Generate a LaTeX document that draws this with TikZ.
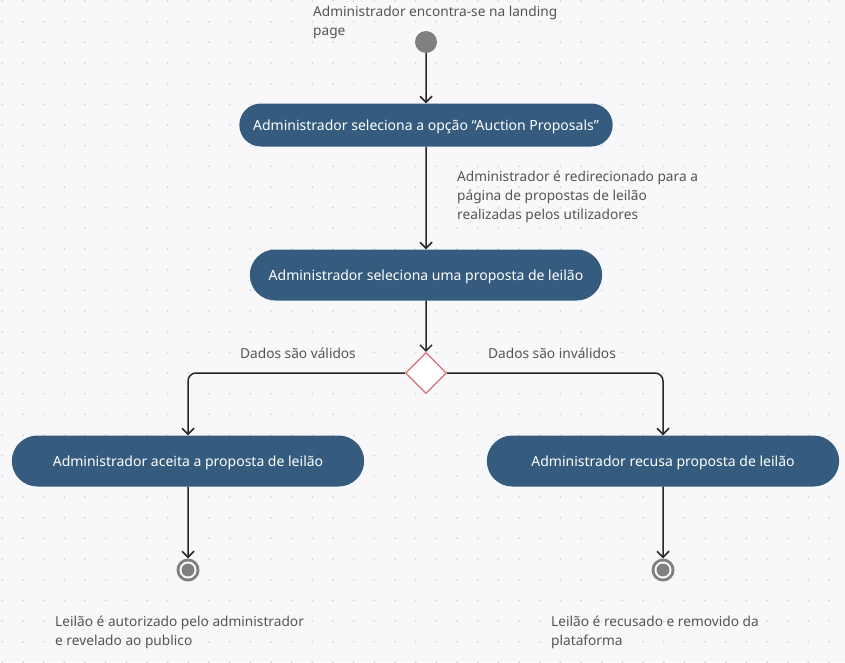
\documentclass[tikz,border=0pt]{standalone}
\usepackage{fontspec}
\setmainfont{Noto Sans}
\usepackage{tikz}
\usetikzlibrary{arrows.meta,shapes,positioning}
\usepackage{xcolor}
\definecolor{actblue}{RGB}{53,92,126}
\definecolor{bggray}{RGB}{248,248,250}
\definecolor{dotgray}{RGB}{212,212,218}
\definecolor{labelgray}{RGB}{85,85,85}
\definecolor{decred}{RGB}{214,112,120}
\definecolor{startgray}{RGB}{128,128,128}
\tikzstyle{action} = [rounded rectangle, minimum width=359pt, minimum height=51pt, text centered, text depth=0pt, fill=actblue, text=white, font=\fontsize{14}{16}\selectfont]
\tikzstyle{decision} = [diamond, minimum width=41pt, minimum height=41pt, inner sep=0pt, draw=decred, fill=white, line width=1.2pt]
\tikzstyle{initial} = [circle, minimum size=22pt, inner sep=0pt, fill=startgray]
\tikzstyle{final} = [circle, minimum size=23pt, inner sep=0pt, fill=startgray, path picture={\fill[white] (path picture bounding box.center) circle (8.5pt); \fill[startgray] (path picture bounding box.center) circle (6.5pt);}]
\tikzstyle{arrow} = [line width=1.5pt, -{Straight Barb[length=6pt,width=12pt]}, color=black!85]
\tikzstyle{note} = [align=left, text=labelgray, font=\fontsize{13.7}{19}\selectfont, inner sep=0pt]

\begin{document}
\begin{tikzpicture}[x=1pt,y=-1pt]
% Background and dot grid
\useasboundingbox (0,0) rectangle (845,662);
\fill[bggray] (0,0) rectangle (845,662);
\foreach \i in {0,...,40}
  \foreach \j in {0,...,32}
    \fill[dotgray] (2.3+20.67*\i,1+20.67*\j) circle (1pt);

% Start
\node[initial] (start) at (426,42) {};
\node[note, anchor=north west] (startlbl) at (313,5.5) {Administrador encontra-se na landing\\page};

% Actions
\node[action, minimum width=380pt, minimum height=43pt] (opcao) at (426,125) {Administrador seleciona a opção “Auction Proposals”};
\node[note, anchor=north west] (redirlbl) at (457,170.5) {Administrador é redirecionado para a\\página de propostas de leilão\\realizadas pelos utilizadores};
\node[action] (proposta) at (426,275) {Administrador seleciona uma proposta de leilão};

% Decision
\node[decision] (dec) at (426,373) {};
\node[note, anchor=base] (validos) at (298,358) {Dados são válidos};
\node[note, anchor=base] (invalidos) at (552,358) {Dados são inválidos};

\node[action] (aceita) at (188,461) {Administrador aceita a proposta de leilão};
\node[action] (recusa) at (663,461) {Administrador recusa proposta de leilão};

% Ends
\node[final] (fimaceita) at (188,570) {};
\node[final] (fimrecusa) at (663,570) {};
\node[note, anchor=north west] (aceitalbl) at (55,615.5) {Leilão é autorizado pelo administrador\\e revelado ao publico};
\node[note, anchor=north west] (recusalbl) at (551,615.5) {Leilão é recusado e removido da\\plataforma};

% Arrows
\draw[arrow] (start) -- (opcao);
\draw[arrow] (opcao) -- (proposta);
\draw[arrow] (proposta) -- (dec);
\draw[arrow, rounded corners=8pt] (dec.west) -| (aceita.north);
\draw[arrow, rounded corners=8pt] (dec.east) -| (recusa.north);
\draw[arrow] (aceita) -- (fimaceita);
\draw[arrow] (recusa) -- (fimrecusa);
\end{tikzpicture}
\end{document}
